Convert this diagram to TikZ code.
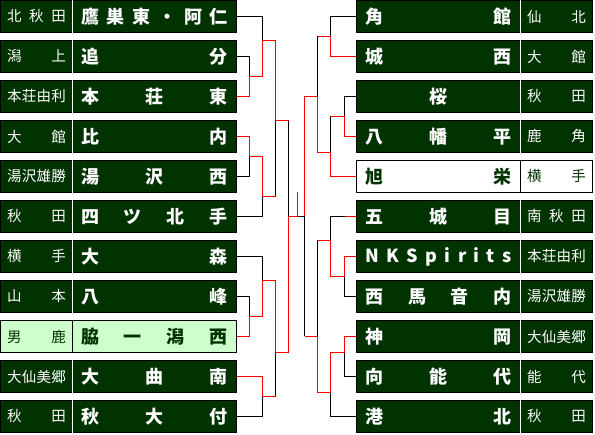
\documentclass[tikz,border=0pt]{standalone}
\usepackage{fontspec}
\newfontfamily\jp{Noto Sans CJK JP}
\definecolor{dkgreen}{HTML}{003300}
\definecolor{ltgreen}{HTML}{CCFFCC}
\definecolor{wred}{HTML}{FF0000}
\tikzset{
  cell/.style={rectangle, inner sep=0pt, minimum height=32pt, draw=none},
  frame/.style={draw=black, line width=1pt},
  lose/.style={draw=black, line width=1pt},
  win/.style={draw=wred, line width=1pt},
}
\newcommand\mainfnt{\jp\bfseries\fontsize{18}{18}\selectfont}
\newcommand\lblfnt{\jp\fontsize{14.5}{14.5}\selectfont}
% #1 name, #2 y, #3 label, #4 main, #5 fill, #6 text colour, #7 separator colour
\newcommand\rowL[7]{%
  \node[cell, fill=#5, minimum width=72pt, text=#6] (#1lab) at (36,#2) {\lblfnt\makebox[59pt][s]{#3}};
  \node[cell, fill=#5, minimum width=164pt, text=#6] (#1) at (154,#2) {\mainfnt\makebox[147pt][s]{#4}};
  \draw[frame] (#1lab.north west) rectangle (#1.south east);
  \draw[draw=#7, line width=1pt] (#1lab.north east) -- (#1lab.south east);
}
\newcommand\rowR[7]{%
  \node[cell, fill=#5, minimum width=164pt, text=#6] (#1) at (438,#2) {\mainfnt\makebox[146pt][s]{#4}};
  \node[cell, fill=#5, minimum width=72pt, text=#6] (#1lab) at (556,#2) {\lblfnt\makebox[59pt][s]{#3}};
  \draw[frame] (#1.north west) rectangle (#1lab.south east);
  \draw[draw=#7, line width=1pt] (#1lab.north west) -- (#1lab.south west);
}
\begin{document}
\begin{tikzpicture}[x=1pt,y=-1pt]
\useasboundingbox (-0.5,-0.5) rectangle (594.5,434.5);
% left side
\rowL{L1}{16}{北\hfill 秋\hfill 田}{鷹\hfill 巣\hfill 東\hfill ・\hfill 阿\hfill 仁}{dkgreen}{white}{white}
\rowL{L2}{56}{潟\hfill 上}{追\hfill 分}{dkgreen}{white}{white}
\rowL{L3}{96}{本\hfill 荘\hfill 由\hfill 利}{本\hfill 荘\hfill 東}{dkgreen}{white}{white}
\rowL{L4}{136}{大\hfill 館}{比\hfill 内}{dkgreen}{white}{white}
\rowL{L5}{176}{湯\hfill 沢\hfill 雄\hfill 勝}{湯\hfill 沢\hfill 西}{dkgreen}{white}{white}
\rowL{L6}{216}{秋\hfill 田}{四\hfill ツ\hfill 北\hfill 手}{dkgreen}{white}{white}
\rowL{L7}{256}{横\hfill 手}{大\hfill 森}{dkgreen}{white}{white}
\rowL{L8}{296}{山\hfill 本}{八\hfill 峰}{dkgreen}{white}{white}
\rowL{L9}{336}{男\hfill 鹿}{脇\hfill 一\hfill 潟\hfill 西}{ltgreen}{dkgreen}{black}
\rowL{L10}{376}{大\hfill 仙\hfill 美\hfill 郷}{大\hfill 曲\hfill 南}{dkgreen}{white}{white}
\rowL{L11}{416}{秋\hfill 田}{秋\hfill 大\hfill 付}{dkgreen}{white}{white}
% right side
\rowR{R1}{16}{仙\hfill 北}{角\hfill 館}{dkgreen}{white}{white}
\rowR{R2}{56}{大\hfill 館}{城\hfill 西}{dkgreen}{white}{white}
\rowR{R3}{96}{秋\hfill 田}{\hfill 桜\hfill}{dkgreen}{white}{white}
\rowR{R4}{136}{鹿\hfill 角}{八\hfill 幡\hfill 平}{dkgreen}{white}{white}
\rowR{R5}{176}{横\hfill 手}{旭\hfill 栄}{white}{dkgreen}{black}
\rowR{R6}{216}{南\hfill 秋\hfill 田}{五\hfill 城\hfill 目}{dkgreen}{white}{white}
\rowR{R7}{256}{本\hfill 荘\hfill 由\hfill 利}{N\hfill K\hfill S\hfill p\hfill i\hfill r\hfill i\hfill t\hfill s}{dkgreen}{white}{white}
\rowR{R8}{296}{湯\hfill 沢\hfill 雄\hfill 勝}{西\hfill 馬\hfill 音\hfill 内}{dkgreen}{white}{white}
\rowR{R9}{336}{大\hfill 仙\hfill 美\hfill 郷}{神\hfill 岡}{dkgreen}{white}{white}
\rowR{R10}{376}{能\hfill 代}{向\hfill 能\hfill 代}{dkgreen}{white}{white}
\rowR{R11}{416}{秋\hfill 田}{港\hfill 北}{dkgreen}{white}{white}
% left bracket: losers
\draw[lose] (L2.east) -- (249,56) -- (249,76);
\draw[lose] (L1.east) -- (262,16) -- (262,40);
\draw[lose] (L5.east) -- (249,176) -- (249,156);
\draw[lose] (L6.east) -- (262,216) -- (262,196);
\draw[lose] (275,196) -- (275,120);
\draw[lose] (288,120) -- (288,216);
\draw[lose] (L7.east) -- (262,256) -- (262,280);
\draw[lose] (L8.east) -- (249,296) -- (249,316);
\draw[lose] (L11.east) -- (262,416) -- (262,396);
\draw[lose] (275,396) -- (275,352);
% right bracket: losers
\draw[lose] (R1.west) -- (330,16) -- (330,36);
\draw[lose] (317,36) -- (317,96);
\draw[lose] (R3.west) -- (344,96) -- (344,116);
\draw[lose] (330,116) -- (330,152);
\draw[lose] (344,216) -- (330,216) -- (330,240);
\draw[lose] (317,240) -- (317,336);
\draw[lose] (R8.west) -- (344,296) -- (344,276);
\draw[lose] (R10.west) -- (344,376) -- (344,352);
\draw[lose] (R11.west) -- (330,416) -- (330,392);
\draw[lose] (304,336) -- (304,216) -- (297,216);
% left bracket: winners
\draw[win] (L3.east) -- (249,96) -- (249,76) -- (262,76) -- (262,40) -- (275,40) -- (275,120) -- (288,120);
\draw[win] (L4.east) -- (249,136) -- (249,156) -- (262,156) -- (262,196) -- (275,196);
\draw[win] (L9.east) -- (249,336) -- (249,316) -- (262,316) -- (262,280) -- (275,280) -- (275,352) -- (288,352) -- (288,216) -- (297,216) -- (297,192);
\draw[win] (L10.east) -- (262,376) -- (262,396) -- (275,396);
% right bracket: winners
\draw[win] (R2.west) -- (330,56) -- (330,36) -- (317,36);
\draw[win] (R4.west) -- (344,136) -- (344,116) -- (330,116);
\draw[win] (R5.west) -- (330,176) -- (330,152) -- (317,152) -- (317,96) -- (304,96) -- (304,216);
\draw[win] (R6.west) -- (344,216);
\draw[win] (R7.west) -- (344,256) -- (344,276) -- (330,276) -- (330,240) -- (317,240);
\draw[win] (R9.west) -- (344,336) -- (344,352) -- (330,352) -- (330,392) -- (317,392) -- (317,336) -- (304,336);
\end{tikzpicture}
\end{document}
